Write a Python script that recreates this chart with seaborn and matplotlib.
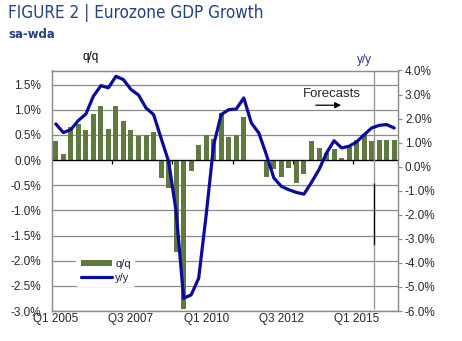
import numpy as np
import pandas as pd
import matplotlib
matplotlib.use("Agg")
import matplotlib.pyplot as plt
from matplotlib import font_manager as fm
from matplotlib.patches import Patch
from matplotlib.lines import Line2D
import seaborn as sns

sns.set_style("white")
plt.rcParams['font.family'] = ['Liberation Sans', 'DejaVu Sans']

# ---- data ----
years = list(range(2005, 2017))
quarters = [f"Q{q} {y}" for y in years for q in range(1, 5)][:46]
qq = [0.37, 0.13, 0.66, 0.71, 0.59, 0.91, 1.07, 0.62, 1.07, 0.77, 0.60, 0.47,
      0.49, 0.55, -0.35, -0.55, -1.83, -2.97, -0.22, 0.29, 0.49, 0.42, 0.93, 0.45,
      0.50, 0.85, -0.02, -0.02, -0.33, -0.18, -0.33, -0.15, -0.45, -0.27, 0.37, 0.23,
      0.15, 0.22, 0.05, 0.25, 0.39, 0.52, 0.37, 0.39, 0.39, 0.39]
yy = [1.78, 1.42, 1.54, 1.92, 2.19, 2.93, 3.37, 3.28, 3.76, 3.62, 3.21, 2.98,
      2.44, 2.17, 1.19, 0.22, -1.86, -5.47, -5.33, -4.64, -2.0, 0.92, 2.17, 2.37,
      2.40, 2.86, 1.82, 1.40, 0.50, -0.47, -0.82, -0.96, -1.07, -1.14, -0.65, -0.12,
      0.57, 1.08, 0.78, 0.85, 1.03, 1.33, 1.61, 1.72, 1.75, 1.61]
xtick_labels = ["Q1 2005", "Q3 2007", "Q1 2010", "Q3 2012", "Q1 2015"]
left_ticks = [-3.0, -2.5, -2.0, -1.5, -1.0, -0.5, 0.0, 0.5, 1.0, 1.5]
right_ticks = [-6, -5, -4, -3, -2, -1, 0, 1, 2, 3, 4]
forecast_start = 42.25

df = pd.DataFrame({"quarter": quarters, "qq": qq, "yy": yy, "idx": np.arange(len(quarters))})

BAR = "#5f7a3e"
LINE = "#0a0aa0"
NAVY = "#22418a"
GRID = "#8c8c8c"

# pick a narrow font for the title if one exists
def narrow_props():
    for fam, stretch in [("Liberation Sans Narrow", "normal"),
                         ("DejaVu Sans", "condensed"),
                         ("Noto Sans", "condensed"),
                         ("Open Sans", "condensed")]:
        try:
            p = fm.FontProperties(family=fam, stretch=stretch)
            f = fm.findfont(p, fallback_to_default=False)
            name = f.lower()
            if "narrow" in name or "condensed" in name:
                return dict(family=fam, fontstretch=stretch)
        except Exception:
            pass
    return dict(family=["Liberation Sans", "DejaVu Sans"])

fig = plt.figure(figsize=(4.62, 3.41), dpi=100)
ax = fig.add_axes([52/462, 1-311/341, 346/462, 240.5/341])

sns.barplot(data=df, x="quarter", y="qq", ax=ax, color=BAR, saturation=1,
            width=0.66, order=quarters, linewidth=0, edgecolor="none", zorder=2)
ax.set_xlim(-0.5, len(quarters) - 0.5)
ax.set_ylim(-3.0, 1.78)
ax.set_yticks(left_ticks)
ax.set_yticklabels([f"{v:.1f}%" for v in left_ticks])
ax.yaxis.grid(True, color=GRID, lw=0.9, zorder=0)
ax.set_axisbelow(True)
ax.set_xlabel("")
ax.set_ylabel("")
ax.set_xticks([quarters.index(l) for l in xtick_labels])
ax.set_xticklabels(xtick_labels)
ax.tick_params(axis='x', length=0, pad=1.5, labelsize=8.5)
ax.tick_params(axis='y', length=0, pad=8, labelsize=8.5)
for s in ax.spines.values():
    s.set_color(GRID)
    s.set_linewidth(0.9)

ax.axhline(0, color="black", lw=0.9, zorder=3)
ax.vlines([7.5, 15.5, 23.5, 31.5, 39.5], -0.08, 0, color="black", lw=0.9, zorder=3)
ax.vlines(forecast_start, -0.46, 1.78, color="#999999", lw=1.0, zorder=3)
ax.vlines(forecast_start, -1.69, -0.46, color="black", lw=1.0, zorder=3)
ax.vlines(forecast_start, -2.97, -1.69, color="#999999", lw=1.0, zorder=3)

ax.text(36.7, 1.31, "Forecasts", fontsize=9.5, ha="center", va="center", zorder=4)
ax.annotate("", xy=(38.3, 1.09), xytext=(34.2, 1.09),
            arrowprops=dict(arrowstyle="-|>", color="black", lw=0.9, mutation_scale=9), zorder=4)

ax2 = ax.twinx()
sns.lineplot(data=df, x="idx", y="yy", ax=ax2, color=LINE, lw=2.3, zorder=5)
ax2.set_ylim(-6, 4)
ax2.set_xlim(-0.5, len(quarters) - 0.5)
ax2.set_yticks(right_ticks)
ax2.set_yticklabels([f"{v:.1f}%" for v in right_ticks])
ax2.tick_params(axis='y', length=3, width=0.9, color=GRID, pad=2, labelsize=8.5)
ax2.set_ylabel("")
ax2.set_xlabel("")
for s in ax2.spines.values():
    s.set_color(GRID)
    s.set_linewidth(0.9)

handles = [Patch(facecolor=BAR, edgecolor="none", linewidth=0), Line2D([], [], color=LINE, lw=2.3)]
leg = ax2.legend(handles, ["q/q", "y/y"], loc="center", bbox_to_anchor=(0.156, 0.166),
                 frameon=True, fontsize=8, handlelength=2.8, handleheight=0.5,
                 handletextpad=0.3, labelspacing=0.35, borderpad=0.4)
leg.get_frame().set_facecolor("white")
leg.get_frame().set_edgecolor("none")
leg.get_frame().set_alpha(1)
for t in leg.get_texts():
    t.set_color("#1a1a40")

tp = narrow_props()
title = fig.text(8/462, 1-13.5/341, "FIGURE 2 | Eurozone GDP Growth", fontsize=13.5,
                 color=NAVY, ha="left", va="center", **tp)
sub = fig.text(8/462, 1-35/341, "sa-wda", fontsize=10.5, fontweight="bold",
               color=NAVY, ha="left", va="center", **tp)

# fit title width to the reference (~254 px) if no narrow font was available
fig.canvas.draw()
r = fig.canvas.get_renderer()
w = title.get_window_extent(r).width
if w > 262:
    title.set_fontsize(13.5 * 254 / w)
w2 = sub.get_window_extent(r).width
if w2 > 50:
    sub.set_fontsize(10.5 * 47 / w2)

fig.text(91/462, 1-57/341, "q/q", fontsize=8.5, color="black", ha="center", va="center")
fig.text(364/462, 1-60/341, "y/y", fontsize=8.5, color="#2e3192", ha="center", va="center")

fig.savefig("out.png", dpi=100)
